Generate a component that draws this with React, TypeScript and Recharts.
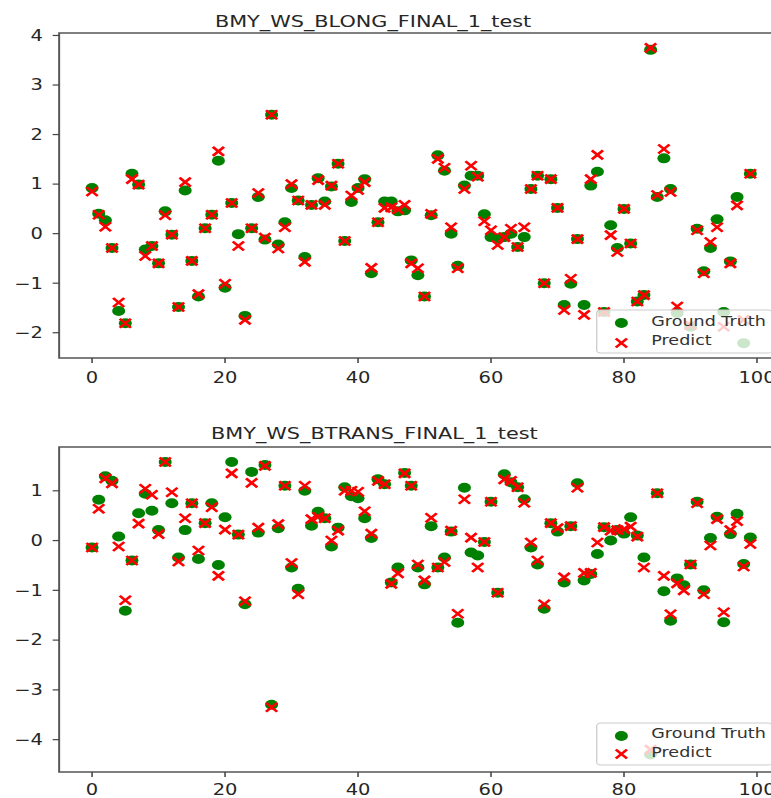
import React from 'react';
import { ScatterChart, Scatter, XAxis, YAxis, ReferenceArea } from 'recharts';

// ---- data (index = sample number) ----
const gtTop: (number | null)[] = [
  0.92, 0.40, 0.27, -0.29, -1.56, -1.81, 1.21, 0.99, -0.32, -0.25,
  -0.60, 0.45, -0.02, -1.48, 0.87, -0.55, -1.27, 0.11, 0.38, 1.47,
  -1.09, 0.62, -0.01, -1.66, 0.11, 0.74, -0.12, 2.40, -0.22, 0.23,
  0.92, 0.67, -0.47, 0.58, 1.12, 0.65, 0.95, 1.41, -0.15, 0.64,
  0.92, 1.10, -0.80, 0.23, 0.65, 0.65, 0.45, 0.47, -0.54, -0.84,
  -1.27, 0.37, 1.58, 1.27, 0.00, -0.65, 0.97, 1.17, 1.17, 0.39,
  -0.07, -0.10, -0.07, 0.00, -0.27, -0.07, 0.90, 1.17, -1.00, 1.10,
  0.52, -1.44, -1.01, -0.11, -1.44, 0.97, 1.25, -1.58, 0.17, -0.29,
  0.50, -0.20, -1.37, -1.24, 3.71, 0.74, 1.52, 0.90, -1.60, null,
  -1.88, 0.10, -0.76, -0.29, 0.29, -1.58, -0.56, 0.74, -2.21, 1.21,
];
const predTop: (number | null)[] = [
  0.85, 0.38, 0.14, -0.29, -1.39, -1.81, 1.10, 0.99, -0.45, -0.25,
  -0.60, 0.37, -0.02, -1.48, 1.04, -0.55, -1.22, 0.11, 0.38, 1.66,
  -1.01, 0.62, -0.25, -1.74, 0.11, 0.82, -0.08, 2.40, -0.30, 0.13,
  1.00, 0.67, -0.57, 0.58, 1.08, 0.58, 0.97, 1.41, -0.15, 0.77,
  0.88, 1.04, -0.69, 0.23, 0.52, 0.53, 0.49, 0.58, -0.60, -0.70,
  -1.27, 0.40, 1.51, 1.33, 0.13, -0.70, 0.90, 1.37, 1.15, 0.25,
  0.07, -0.23, -0.07, 0.10, -0.27, 0.13, 0.90, 1.17, -1.00, 1.10,
  0.52, -1.54, -0.91, -0.11, -1.64, 1.10, 1.59, -1.58, -0.03, -0.37,
  0.50, -0.20, -1.37, -1.24, 3.75, 0.78, 1.71, 0.84, -1.47, null,
  -1.85, 0.07, -0.80, -0.17, 0.13, -1.88, -0.60, 0.57, -1.74, 1.21,
];
const gtBottom: (number | null)[] = [
  -0.14, 0.82, 1.29, 1.20, 0.08, -1.41, -0.40, 0.55, 0.94, 0.60,
  0.21, 1.58, 0.75, -0.34, 0.21, 0.75, -0.37, 0.35, 0.75, -0.49,
  0.47, 1.58, 0.12, -1.28, 1.38, 0.16, 1.52, -3.30, 0.25, 1.10,
  -0.54, -0.97, 1.00, 0.30, 0.58, 0.45, -0.12, 0.26, 1.07, 0.89,
  0.85, 0.45, 0.05, 1.23, 1.13, -0.84, -0.54, 1.36, 1.10, -0.54,
  -0.88, 0.29, -0.54, -0.34, 0.18, -1.65, 1.06, -0.24, -0.30, -0.03,
  0.78, -1.05, 1.33, 1.17, 1.07, 0.83, -0.14, -0.48, -1.37, 0.35,
  0.18, -0.84, 0.29, 1.15, -0.80, -0.67, -0.27, 0.27, 0.00, 0.21,
  0.14, 0.47, 0.10, -0.34, -4.30, 0.95, -1.02, -1.61, -0.76, -0.90,
  -0.48, 0.78, -1.00, 0.05, 0.48, -1.64, 0.13, 0.54, -0.47, 0.06,
];
const predBottom: (number | null)[] = [
  -0.14, 0.64, 1.25, 1.15, -0.12, -1.20, -0.40, 0.34, 1.04, 0.92,
  0.13, 1.58, 0.97, -0.42, 0.45, 0.75, -0.20, 0.35, 0.67, -0.71,
  0.22, 1.35, 0.12, -1.22, 1.16, 0.26, 1.50, -3.35, 0.33, 1.10,
  -0.45, -1.08, 1.10, 0.43, 0.48, 0.45, 0.00, 0.20, 1.00, 1.00,
  0.98, 0.59, 0.14, 1.20, 1.13, -0.87, -0.66, 1.35, 1.10, -0.48,
  -0.80, 0.46, -0.54, -0.43, 0.20, -1.47, 0.83, 0.06, -0.54, -0.03,
  0.78, -1.05, 1.23, 1.20, 1.07, 0.76, -0.04, -0.40, -1.28, 0.35,
  0.25, -0.74, 0.29, 1.06, -0.65, -0.65, -0.04, 0.27, 0.20, 0.21,
  0.23, 0.28, 0.08, -0.54, -4.20, 0.95, -0.71, -1.48, -0.86, -1.00,
  -0.48, 0.75, -1.08, -0.10, 0.43, -1.44, 0.21, 0.39, -0.52, -0.07,
];

const xTicks = [0, 20, 40, 60, 80, 100];
const yTicksTop = [-2, -1, 0, 1, 2, 3, 4];
const yTicksBottom = [-4, -3, -2, -1, 0, 1];
const titleTop = 'BMY_WS_BLONG_FINAL_1_test';
const titleBottom = 'BMY_WS_BTRANS_FINAL_1_test';
const legendLabels = ['Ground Truth', 'Predict'];

const S = 1.3; // horizontal stretch of the reference image
const FONT = 'DejaVu Sans';
const GREEN = '#008000';
const RED = '#ff0000';
const X_DOMAIN: [number, number] = [-4.95, 103.95];

const toPoints = (arr: (number | null)[]) =>
  arr.map((v, i) => (v == null ? null : { x: i, y: v })).filter(Boolean) as { x: number; y: number }[];

const Dot = (p: any) => <circle cx={p.cx} cy={p.cy} r={5} fill={GREEN} />;
const Cross = (p: any) => {
  const a = 4.3;
  const b = 4.5;
  return (
    <path
      d={`M${p.cx - a},${p.cy - b}L${p.cx + a},${p.cy + b}M${p.cx - a},${p.cy + b}L${p.cx + a},${p.cy - b}`}
      stroke={RED}
      strokeWidth={2.3}
      fill="none"
    />
  );
};

const fmt = (v: number) => (v < 0 ? '\u2212' + Math.abs(v) : String(v));

const tickStyle = { fill: '#262626', fontSize: 15, fontFamily: FONT };

function Panel({ gt, pred, yDomain, yTicks, xMargin }: { gt: (number | null)[]; pred: (number | null)[]; yDomain: [number, number]; yTicks: number[]; xMargin: number }) {
  return (
    <ScatterChart width={620} height={400} margin={{ top: 33, right: 17.5, bottom: 12, left: 0 }}>
      <XAxis
        type="number"
        dataKey="x"
        domain={X_DOMAIN}
        ticks={xTicks}
        allowDataOverflow
        axisLine={false}
        tickLine={{ stroke: '#444', strokeWidth: 1.2 }}
        tickSize={5}
        tickMargin={xMargin}
        height={30}
        tick={tickStyle}
      />
      <YAxis
        type="number"
        dataKey="y"
        domain={yDomain}
        ticks={yTicks}
        allowDataOverflow
        axisLine={false}
        tickLine={{ stroke: '#444', strokeWidth: 1.2 }}
        tickSize={5}
        tickMargin={7.5}
        width={45.5}
        tick={tickStyle}
        tickFormatter={fmt}
      />
      <ReferenceArea
        x1={X_DOMAIN[0]}
        x2={X_DOMAIN[1]}
        y1={yDomain[0]}
        y2={yDomain[1]}
        fill="none"
        fillOpacity={0}
        stroke="#555"
        strokeWidth={1.5}
        ifOverflow="visible"
      />
      <Scatter data={toPoints(gt)} shape={Dot} isAnimationActive={false} />
      <Scatter data={toPoints(pred)} shape={Cross} isAnimationActive={false} />
    </ScatterChart>
  );
}

function Legend({ top, height, dotY, crossY, text1Y, text2Y }: { top: number; height: number; dotY: number; crossY: number; text1Y: number; text2Y: number }) {
  const cx = 478;
  const a = 4.3;
  return (
    <g>
      <rect x={459} y={top} width={135} height={height} rx={3} fill="#fff" fillOpacity={0.8} stroke="#cccccc" strokeWidth={1} />
      <circle cx={cx} cy={dotY} r={5} fill={GREEN} />
      <path d={`M${cx - a},${crossY - 4.5}L${cx + a},${crossY + 4.5}M${cx - a},${crossY + 4.5}L${cx + a},${crossY - 4.5}`} stroke={RED} strokeWidth={2.3} />
      <text x={501} y={text1Y} fontSize={13.5} fontFamily={FONT} fill="#333" dominantBaseline="central">{legendLabels[0]}</text>
      <text x={501} y={text2Y} fontSize={13.5} fontFamily={FONT} fill="#333" dominantBaseline="central">{legendLabels[1]}</text>
    </g>
  );
}

export default function App() {
  return (
    <div style={{ position: 'absolute', left: 0, top: 0, width: 771, height: 798, overflow: 'hidden', background: '#fff' }}>
      <div style={{ position: 'absolute', left: 0, top: 0, width: 620, height: 820, transform: `scaleX(${S})`, transformOrigin: '0 0' }}>
        <div style={{ position: 'absolute', left: 0, top: 0 }}>
          <Panel gt={gtTop} pred={predTop} yDomain={[-2.51, 4.05]} yTicks={yTicksTop} xMargin={9} />
        </div>
        <div style={{ position: 'absolute', left: 0, top: 414 }}>
          <Panel gt={gtBottom} pred={predBottom} yDomain={[-4.65, 1.88]} yTicks={yTicksBottom} xMargin={7} />
        </div>
        <svg width={620} height={820} style={{ position: 'absolute', left: 0, top: 0, pointerEvents: 'none' }}>
          <text x={287} y={27} textAnchor="middle" fontSize={16} fontFamily={FONT} fill="#262626">{titleTop}</text>
          <text x={288} y={439} textAnchor="middle" fontSize={16} fontFamily={FONT} fill="#262626">{titleBottom}</text>
          <Legend top={310} height={43} dotY={323} crossY={343} text1Y={321} text2Y={340} />
          <Legend top={723} height={42} dotY={736} crossY={754} text1Y={733} text2Y={752} />
        </svg>
      </div>
    </div>
  );
}
